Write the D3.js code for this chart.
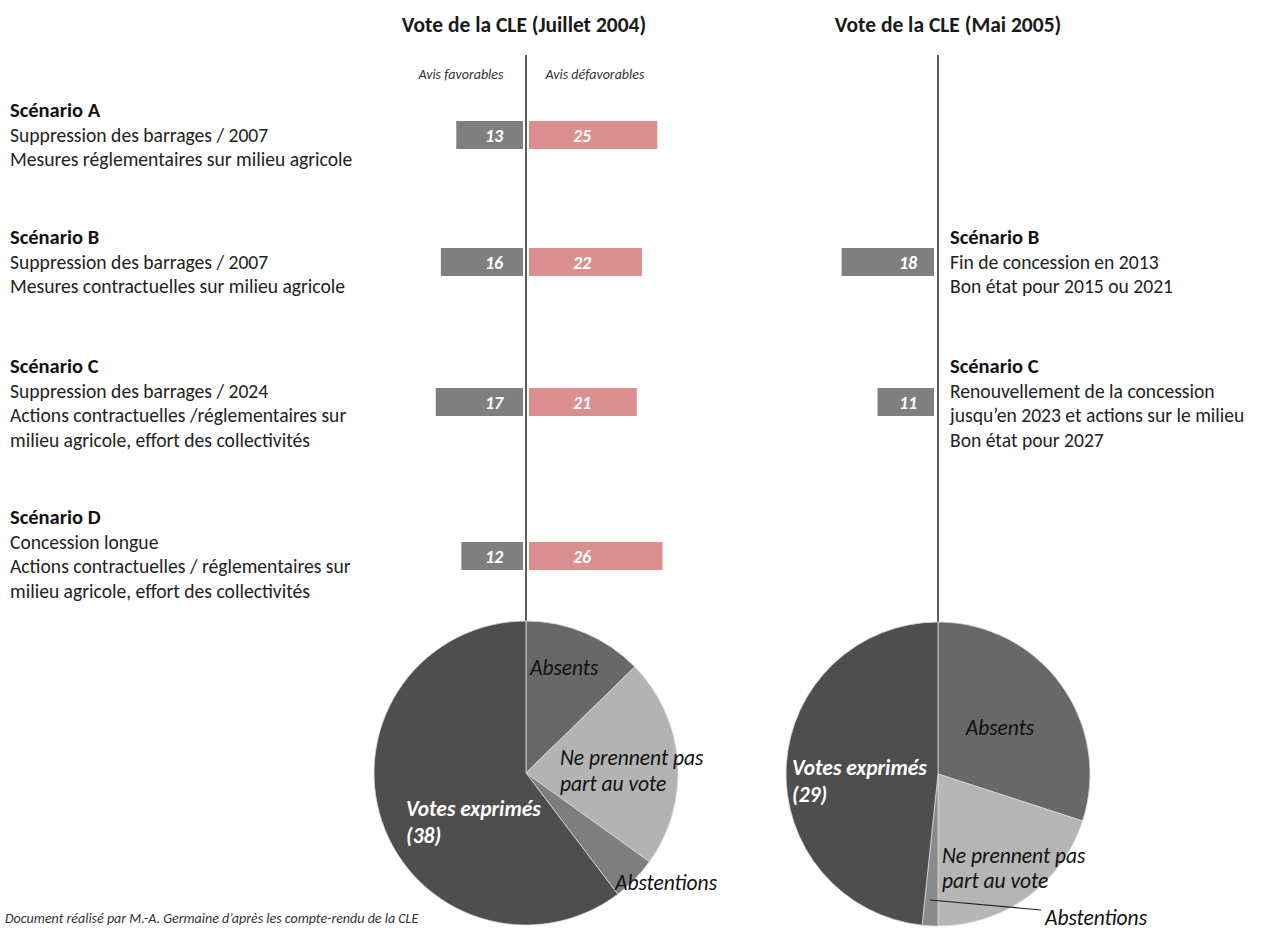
<!DOCTYPE html>
<html>
<head>
<meta charset="utf-8">
<script src="https://cdn.jsdelivr.net/npm/d3@7"></script>
<style>
html,body{margin:0;padding:0;background:#fff;}
svg{display:block;}
</style>
</head>
<body>
<svg id="chart" width="1276" height="930"></svg>
<script>
// ---------- DATA ----------
const panelTitles = ["Vote de la CLE (Juillet 2004)", "Vote de la CLE (Mai 2005)"];
const barHeaders = ["Avis favorables", "Avis défavorables"];

const scenarios2004 = ["A", "B", "C", "D"];
const scenarioTitles2004 = ["Scénario A", "Scénario B", "Scénario C", "Scénario D"];
const scenarioLines2004 = [
  ["Suppression des barrages / 2007", "Mesures réglementaires sur milieu agricole"],
  ["Suppression des barrages / 2007", "Mesures contractuelles sur milieu agricole"],
  ["Suppression des barrages / 2024", "Actions contractuelles /réglementaires sur", "milieu agricole, effort des collectivités"],
  ["Concession longue", "Actions contractuelles / réglementaires sur", "milieu agricole, effort des collectivités"]
];
const favorables2004 = [13, 16, 17, 12];
const defavorables2004 = [25, 22, 21, 26];

const scenarios2005 = ["B", "C"];
const scenarioTitles2005 = ["Scénario B", "Scénario C"];
const scenarioLines2005 = [
  ["Fin de concession en 2013", "Bon état pour 2015 ou 2021"],
  ["Renouvellement de la concession", "jusqu\u2019en 2023 et actions sur le milieu", "Bon état pour 2027"]
];
const favorables2005 = [18, 11];

const pieCategories = ["Absents", "Ne prennent pas part au vote", "Abstentions", "Votes exprimés"];
const pie2004 = [8, 14, 3, 38];
const pie2005 = [18, 12, 1, 29];

const footnote = "Document réalisé par M.-A. Germaine d\u2019après les compte-rendu de la CLE";

// ---------- LAYOUT ----------
const svg = d3.select("#chart");
const FONT = "Carlito, Calibri, Lato, 'Open Sans', sans-serif";
const axisL = 526, axisR = 938;
const rowY = {A: 135, B: 262, C: 402, D: 556};      // bar centres
const titleY = {A: 117, B: 244, C: 373, D: 524};    // scenario title baselines
const lineGap = 24.5;
const barH = 28;
const bodySize = 19.6, boldSize = 20.5, pieSize = 21.5;

const x = d3.scaleLinear().domain([0, 30]).range([0, 154]);

const colFav = "#7f7f7f", colDef = "#dc8f8f";

// titles
svg.append("text").attr("x", axisL - 2).attr("y", 32).attr("text-anchor", "middle")
  .attr("font-family", FONT).attr("font-weight", "bold").attr("font-size", 21.5).attr("fill", "#1a1a1a")
  .text(panelTitles[0]);
svg.append("text").attr("x", axisR + 10).attr("y", 32).attr("text-anchor", "middle")
  .attr("font-family", FONT).attr("font-weight", "bold").attr("font-size", 21.5).attr("fill", "#1a1a1a")
  .text(panelTitles[1]);

// headers
svg.append("text").attr("x", axisL - 65).attr("y", 79).attr("text-anchor", "middle")
  .attr("font-family", FONT).attr("font-style", "italic").attr("font-size", 14).attr("fill", "#333")
  .text(barHeaders[0]);
svg.append("text").attr("x", axisL + 69).attr("y", 79).attr("text-anchor", "middle")
  .attr("font-family", FONT).attr("font-style", "italic").attr("font-size", 14).attr("fill", "#333")
  .text(barHeaders[1]);

// axes lines
svg.append("line").attr("x1", axisL).attr("x2", axisL).attr("y1", 55).attr("y2", 625)
  .attr("stroke", "#333").attr("stroke-width", 1.6);
svg.append("line").attr("x1", axisR).attr("x2", axisR).attr("y1", 55).attr("y2", 625)
  .attr("stroke", "#333").attr("stroke-width", 1.6);

// scenario text blocks
function scenarioBlock(xPos, title, lines, baseY) {
  const g = svg.append("g");
  g.append("text").attr("x", xPos).attr("y", baseY)
    .attr("font-family", FONT).attr("font-weight", "bold").attr("font-size", boldSize).attr("fill", "#111")
    .text(title);
  lines.forEach((l, i) => {
    g.append("text").attr("x", xPos).attr("y", baseY + lineGap * (i + 1))
      .attr("font-family", FONT).attr("font-size", bodySize).attr("fill", "#222")
      .text(l);
  });
}
scenarios2004.forEach((s, i) => scenarioBlock(10, scenarioTitles2004[i], scenarioLines2004[i], titleY[s]));
scenarios2005.forEach((s, i) => scenarioBlock(950, scenarioTitles2005[i], scenarioLines2005[i], titleY[s]));

// bars 2004
const g04 = svg.append("g");
g04.selectAll("rect.fav").data(scenarios2004).join("rect")
  .attr("x", (s, i) => axisL - 3 - x(favorables2004[i]))
  .attr("y", s => rowY[s] - barH / 2)
  .attr("width", (s, i) => x(favorables2004[i]))
  .attr("height", barH).attr("fill", colFav);
g04.selectAll("rect.def").data(scenarios2004).join("rect")
  .attr("x", axisL + 3)
  .attr("y", s => rowY[s] - barH / 2)
  .attr("width", (s, i) => x(defavorables2004[i]))
  .attr("height", barH).attr("fill", colDef);
g04.selectAll("text.fav").data(scenarios2004).join("text")
  .attr("x", axisL - 32).attr("y", s => rowY[s] + 6.5).attr("text-anchor", "middle")
  .attr("font-family", FONT).attr("font-weight", "bold").attr("font-style", "italic").attr("font-size", 18)
  .attr("fill", "#fff").text((s, i) => favorables2004[i]);
g04.selectAll("text.def").data(scenarios2004).join("text")
  .attr("x", axisL + 56).attr("y", s => rowY[s] + 6.5).attr("text-anchor", "middle")
  .attr("font-family", FONT).attr("font-weight", "bold").attr("font-style", "italic").attr("font-size", 18)
  .attr("fill", "#fff").text((s, i) => defavorables2004[i]);

// bars 2005
const g05 = svg.append("g");
g05.selectAll("rect").data(scenarios2005).join("rect")
  .attr("x", (s, i) => axisR - 4 - x(favorables2005[i]))
  .attr("y", s => rowY[s] - barH / 2)
  .attr("width", (s, i) => x(favorables2005[i]))
  .attr("height", barH).attr("fill", colFav);
g05.selectAll("text").data(scenarios2005).join("text")
  .attr("x", axisR - 30).attr("y", s => rowY[s] + 6.5).attr("text-anchor", "middle")
  .attr("font-family", FONT).attr("font-weight", "bold").attr("font-style", "italic").attr("font-size", 18)
  .attr("fill", "#fff").text((s, i) => favorables2005[i]);

// pies
const pieColors04 = ["#686868", "#b3b3b3", "#7e7e7e", "#4e4e4e"];
const pieColors05 = ["#686868", "#b5b5b5", "#8a8a8a", "#4e4e4e"];
const R = 152;
const pieGen = d3.pie().sort(null).value(d => d);
const arcGen = d3.arc().innerRadius(0).outerRadius(R);

function drawPie(cx, cy, values, colors) {
  const g = svg.append("g").attr("transform", `translate(${cx},${cy})`);
  g.selectAll("path").data(pieGen(values)).join("path")
    .attr("d", arcGen)
    .attr("fill", (d, i) => colors[i])
    .attr("stroke", "#d8d8d8").attr("stroke-width", 0.8);
  return g;
}
const p1 = drawPie(axisL, 773, pie2004, pieColors04);
const p2 = drawPie(axisR, 774, pie2005, pieColors05);

function lbl(g, xx, yy, t, opts = {}) {
  g.append("text").attr("x", xx).attr("y", yy)
    .attr("font-family", FONT).attr("font-style", "italic")
    .attr("font-weight", opts.bold ? "bold" : "normal")
    .attr("font-size", opts.size || pieSize)
    .attr("fill", opts.fill || "#111")
    .attr("text-anchor", opts.anchor || "start")
    .text(t);
}
// left pie labels (relative to centre)
lbl(p1, 4, -98, "Absents");
lbl(p1, 34, -8, "Ne prennent pas");
lbl(p1, 34, 18, "part au vote");
lbl(p1, -120, 43, "Votes exprimés", {bold: true, fill: "#fff"});
lbl(p1, -120, 70, "(38)", {bold: true, fill: "#fff"});
lbl(p1, 89, 117, "Abstentions");

// right pie labels
lbl(p2, 62, -39, "Absents", {anchor: "middle"});
lbl(p2, -146, 1, "Votes exprimés", {bold: true, fill: "#fff"});
lbl(p2, -146, 28, "(29)", {bold: true, fill: "#fff"});
lbl(p2, 4, 89, "Ne prennent pas");
lbl(p2, 4, 114, "part au vote");
p2.append("line").attr("x1", -8).attr("y1", 126).attr("x2", 103).attr("y2", 136)
  .attr("stroke", "#222").attr("stroke-width", 1.2);
lbl(p2, 107, 151, "Abstentions");

// footnote
svg.append("text").attr("x", 5).attr("y", 923)
  .attr("font-family", FONT).attr("font-style", "italic").attr("font-size", 14).attr("fill", "#333")
  .text(footnote);
</script>
</body>
</html>
